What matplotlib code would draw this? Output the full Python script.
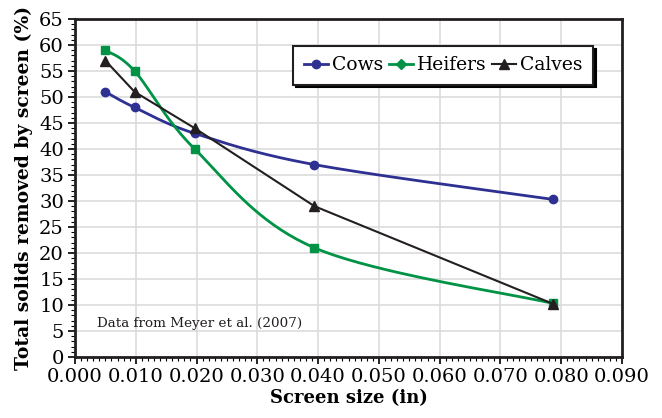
import matplotlib
matplotlib.use('Agg')
import matplotlib.pyplot as plt
from matplotlib.lines import Line2D
from matplotlib.ticker import MultipleLocator
import numpy as np

# data
screen_in = [0.005, 0.0098, 0.0197, 0.0394, 0.0787]
cows = [51, 48, 43, 37, 30.3]
heifers = [59, 55, 40, 21, 10.3]
calves = [57, 51, 44, 29, 10.2]

xticks = [0.000, 0.010, 0.020, 0.030, 0.040, 0.050, 0.060, 0.070, 0.080, 0.090]

blue = '#2e3192'
green = '#009245'
black = '#231f20'

plt.rcParams['font.family'] = ['DejaVu Serif']


def smooth(x, y, n=40):
    # excel-style smoothed line (cardinal bezier between points)
    p = np.column_stack([x, y]).astype(float)
    pts = np.vstack([p[0], p, p[-1]])
    out = []
    t = np.linspace(0, 1, n)[:, None]
    for i in range(1, len(pts) - 2):
        p0, p1, p2, p3 = pts[i - 1], pts[i], pts[i + 1], pts[i + 2]
        c1 = p1 + (p2 - p0) / 6
        c2 = p2 - (p3 - p1) / 6
        seg = ((1 - t) ** 3) * p1 + 3 * ((1 - t) ** 2) * t * c1 + 3 * (1 - t) * t ** 2 * c2 + t ** 3 * p2
        out.append(seg)
    s = np.vstack(out)
    return s[:, 0], s[:, 1]


fig = plt.figure(figsize=(6.62, 4.18), dpi=100)
ax = fig.add_axes([0.1133, 0.1459, 0.8263, 0.8086])

sx, sy = smooth(screen_in, cows)
ax.plot(sx, sy, color=blue, lw=2, zorder=3)
ax.plot(screen_in, cows, 'o', color=blue, ms=6, zorder=4)

sx, sy = smooth(screen_in, heifers)
ax.plot(sx, sy, color=green, lw=2, zorder=3)
ax.plot(screen_in, heifers, 's', color=green, ms=6, zorder=4)

ax.plot(screen_in, calves, '-^', color=black, lw=1.5, ms=7, zorder=5)

ax.set_xlim(0, 0.09)
ax.set_ylim(0, 65)
ax.set_xticks(xticks)
ax.set_xticklabels([f'{v:.3f}' for v in xticks])
ax.yaxis.set_major_locator(MultipleLocator(5))
ax.yaxis.set_minor_locator(MultipleLocator(1))
ax.xaxis.set_minor_locator(MultipleLocator(0.001))
ax.grid(True, color='#dcdcdc', lw=1.2, zorder=0)
ax.set_axisbelow(True)

ax.tick_params(which='major', direction='out', length=5, width=1.2, labelsize=14, pad=3)
ax.tick_params(which='minor', direction='out', length=3, width=0.8)
for s in ax.spines.values():
    s.set_linewidth(2)
    s.set_color(black)

ax.set_xlabel('Screen size (in)', fontsize=13, fontweight='bold', labelpad=2)
ax.set_ylabel('Total solids removed by screen (%)', fontsize=13.5, fontweight='bold', labelpad=4)

ax.text(0.04, 0.10, 'Data from Meyer et al. (2007)', transform=ax.transAxes,
        fontsize=9.7, va='center', ha='left', color=black)

handles = [
    Line2D([], [], color=blue, lw=2, marker='o', ms=6),
    Line2D([], [], color=green, lw=2, marker='D', ms=5),
    Line2D([], [], color=black, lw=1.5, marker='^', ms=7),
]
leg = ax.legend(handles, ['Cows', 'Heifers', 'Calves'], loc='upper left',
                bbox_to_anchor=(0.399, 0.92), borderaxespad=0, ncol=3,
                fontsize=13.5, frameon=True, fancybox=False, handlelength=1.3,
                handletextpad=0.2, columnspacing=0.3, borderpad=0.55,
                shadow={'color': 'black', 'alpha': 1})
leg.get_frame().set_edgecolor(black)
leg.get_frame().set_linewidth(1.5)

plt.savefig('out.png', dpi=100)
